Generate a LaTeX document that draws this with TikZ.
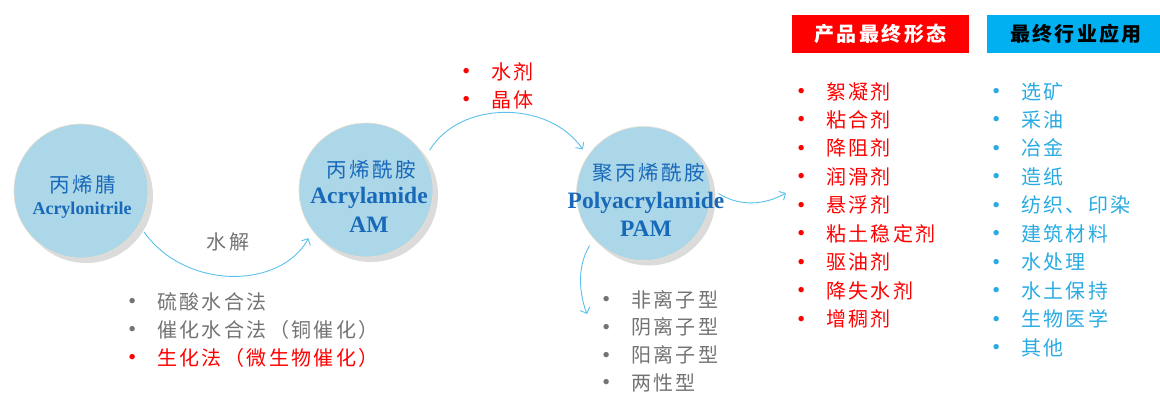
\documentclass[tikz,border=0pt]{standalone}
\usepackage{fontspec}
\newfontfamily\cjk[LetterSpace=12]{Noto Sans CJK SC}
\newfontfamily\en{Liberation Serif}
\usetikzlibrary{arrows.meta,shadows}
\definecolor{circfill}{RGB}{171,215,233}
\definecolor{circrim}{RGB}{238,222,205}
\definecolor{circtext}{RGB}{25,105,185}
\definecolor{graytext}{RGB}{115,115,115}
\definecolor{redtext}{RGB}{255,0,0}
\definecolor{cyantext}{RGB}{41,171,226}
\definecolor{cyanbox}{RGB}{0,176,240}
\definecolor{arrowblue}{RGB}{91,192,235}
\newcommand{\bul}{\makebox[30pt][l]{\hspace{-3.5pt}\raisebox{1.5pt}{\normalfont\fontsize{24}{24}\selectfont\textbullet}}}
\tikzset{
  circ/.style={circle, minimum size=134pt, inner sep=0pt, fill=circfill, draw=circrim, line width=0.6pt, outer sep=8pt,
    drop shadow={shadow xshift=5pt, shadow yshift=-5pt, fill=black!14, opacity=1}},
  cjkline/.style={inner sep=0pt, text=circtext, font=\cjk\fontsize{20.5}{20}\selectfont},
  enbig/.style={inner sep=0pt, text=circtext, font=\en\bfseries\fontsize{23.5}{24}\selectfont},
  ensmall/.style={inner sep=0pt, text=circtext, font=\en\bfseries\fontsize{18}{18}\selectfont},
  item/.style={anchor=base west, inner sep=0pt, font=\cjk\fontsize{20}{20}\selectfont},
  hdr/.style={minimum height=38pt, inner sep=0pt, font=\cjk\bfseries\fontsize{20}{20}\selectfont},
  arr/.style={draw=arrowblue, line width=0.9pt, -{Straight Barb[length=5pt,width=10pt]}},
}
\begin{document}
\begin{tikzpicture}[x=1pt,y=-1pt]
\useasboundingbox (0,0) rectangle (1160,392);
% circles
\node[circ] (c1) at (81,191) {};
\node[circ] (c2) at (366,190) {};
\node[circ] (c3) at (643.5,193.5) {};
\node[cjkline] (t1a) at (83,185) {丙烯腈};
\node[ensmall] (t1b) at (82,210) {Acrylonitrile};
\node[cjkline] (t2a) at (371,170) {丙烯酰胺};
\node[enbig] (t2b) at (369,198) {Acrylamide};
\node[enbig] (t2c) at (369,225) {AM};
\node[cjkline] (t3a) at (649,173) {聚丙烯酰胺};
\node[enbig] (t3b) at (646,203) {Polyacrylamide};
\node[enbig] (t3c) at (646,229) {PAM};
% free ends
\coordinate (pe) at (786,193);
\coordinate (ps) at (587,314);
% connectors
\draw[arr] (c1.-33) .. controls (185,290) and (280,290) .. (c2.-140);
\draw[arr] (c2.32) .. controls (460,100) and (549,100) .. (c3.144);
\draw[arr] (c3.0) .. controls (740,207) and (765,205) .. (pe);
\draw[arr] (c3.-136) .. controls (576,268) and (580,296) .. (ps);
\node[inner sep=0pt, text=graytext, font=\cjk\fontsize{20}{20}\selectfont] (lbl) at (228,242) {水解};
% left bottom list
\node[item, text=graytext] (l1) at (127,309) {\bul 硫酸水合法};
\node[item, text=graytext] (l2) at (127,337) {\bul 催化水合法（铜催化）};
\node[item, text=redtext] (l3) at (127,365) {\bul 生化法（微生物催化）};
% top list
\node[item, text=redtext] (u1) at (461,79) {\bul 水剂};
\node[item, text=redtext] (u2) at (461,107) {\bul 晶体};
% below PAM list
\foreach \t [count=\i] in {非离子型,阴离子型,阳离子型,两性型}
  \node[item, text=graytext] (g\i) at (601,{307+27.8*(\i-1)}) {\bul \t};
% headers
\node[hdr, fill=redtext, text=white, minimum width=177pt] (h1) at (880.5,34) {产品最终形态};
\node[hdr, fill=cyanbox, text=black, minimum width=178pt] (h2) at (1076,34) {最终行业应用};
% product forms
\foreach \t [count=\i] in {絮凝剂,粘合剂,降阻剂,润滑剂,悬浮剂,粘土稳定剂,驱油剂,降失水剂,增稠剂}
  \node[item, text=redtext] (r\i) at (796,{99+28.45*(\i-1)}) {\bul \t};
% applications
\foreach \t [count=\i] in {选矿,采油,冶金,造纸,纺织、印染,建筑材料,水处理,水土保持,生物医学,其他}
  \node[item, text=cyantext] (b\i) at (991,{99+28.45*(\i-1)}) {\bul \t};
\end{tikzpicture}
\end{document}
